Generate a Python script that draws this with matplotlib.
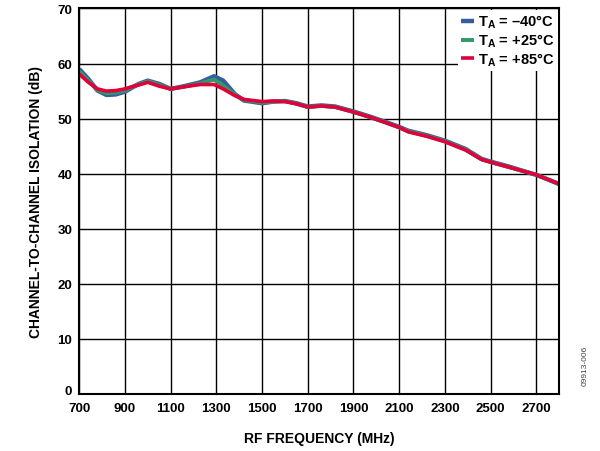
import matplotlib
matplotlib.use("Agg")
import matplotlib.pyplot as plt
import matplotlib.transforms as mtransforms

# === DATOS === #
freq_mhz = [700, 740, 780, 820, 860, 900, 930, 960, 1000, 1050, 1100, 1160, 1230, 1290,
            1330, 1380, 1420, 1500, 1550, 1600, 1650, 1700, 1760, 1820, 1900, 1970,
            2040, 2100, 2140, 2220, 2300, 2390, 2460, 2500, 2580, 2650, 2700, 2790, 2800]
iso_m40 = [59.0, 57.2, 55.1, 54.3, 54.4, 54.9, 55.6, 56.3, 56.9, 56.3, 55.4, 55.9, 56.6,
           57.7, 56.9, 54.5, 53.3, 52.8, 53.1, 53.2, 52.8, 52.2, 52.4, 52.2, 51.3, 50.4,
           49.4, 48.5, 47.8, 47.0, 46.0, 44.5, 42.7, 42.2, 41.3, 40.4, 39.8, 38.3, 38.1]
iso_p25 = [58.6, 56.9, 55.2, 54.6, 54.7, 55.1, 55.7, 56.2, 56.8, 56.1, 55.4, 55.8, 56.4,
           57.1, 56.0, 54.4, 53.4, 52.9, 53.1, 53.2, 52.7, 52.1, 52.3, 52.1, 51.2, 50.3,
           49.3, 48.4, 47.7, 46.9, 45.9, 44.4, 42.6, 42.1, 41.2, 40.4, 39.8, 38.3, 38.1]
iso_p85 = [58.1, 56.6, 55.4, 55.0, 55.1, 55.4, 55.8, 56.1, 56.6, 55.9, 55.4, 55.8, 56.2,
           56.2, 55.4, 54.2, 53.5, 53.1, 53.2, 53.1, 52.7, 52.1, 52.3, 52.1, 51.2, 50.3,
           49.3, 48.4, 47.6, 46.8, 45.8, 44.3, 42.6, 42.1, 41.2, 40.4, 39.8, 38.3, 38.1]
etiquetas = ["$\\mathbf{T_A}$ = \u201340\u00b0C",
             "$\\mathbf{T_A}$ = +25\u00b0C",
             "$\\mathbf{T_A}$ = +85\u00b0C"]
colores = ["#3A5C9E", "#2E9A6A", "#E2003B"]
xticks = list(range(700, 2701, 200))
yticks = list(range(0, 71, 10))

plt.rcParams["font.family"] = ["Liberation Sans", "DejaVu Sans"]
plt.rcParams["font.weight"] = "bold"
plt.rcParams["mathtext.fontset"] = "custom"
plt.rcParams["mathtext.bf"] = "Liberation Sans:bold"
plt.rcParams["mathtext.rm"] = "Liberation Sans:bold"

fig = plt.figure(figsize=(6, 4.52), dpi=100)
ax = fig.add_axes([0.132, 0.126, 0.8, 0.853])

# Curvas: azul debajo, rojo encima
for serie, col, lab, lw in zip([iso_m40, iso_p25, iso_p85], colores, etiquetas, [3.2, 2.8, 2.6]):
    ax.plot(freq_mhz, serie, color=col, lw=lw, label=lab,
            solid_joinstyle="round", solid_capstyle="butt")

ax.set_xlim(700, 2800)
ax.set_ylim(0, 70)
ax.set_xticks(xticks)
ax.set_yticks(yticks)
ax.tick_params(length=0, labelsize=9.5)
ax.tick_params(axis="x", pad=6)
ax.tick_params(axis="y", pad=5)
ax.grid(True, color="black", lw=1.0)
for s in ax.spines.values():
    s.set_linewidth(1.5)
ax.set_axisbelow(True)

# subir un poco el "0" para que no choque con "700"
fig.canvas.draw()
etq0 = ax.get_yticklabels()[0]
etq0.set_transform(etq0.get_transform() + mtransforms.ScaledTranslation(0, 3 / 72, fig.dpi_scale_trans))

ax.set_xlabel("RF FREQUENCY (MHz)", fontsize=10, fontweight="bold", labelpad=12)
ax.set_ylabel("CHANNEL-TO-CHANNEL ISOLATION (dB)", fontsize=10, fontweight="bold", labelpad=10)

leg = ax.legend(loc="upper right", frameon=True, fancybox=False, framealpha=1,
                edgecolor="white", fontsize=10.5, handlelength=0.9, handletextpad=0.3,
                labelspacing=0.1, borderpad=0.2, borderaxespad=0.1)
leg.get_frame().set_linewidth(0)

# Codigo de figura al margen
fig.text(0.975, 0.19, "09913-006", rotation=90, fontsize=6, color="#444444",
         fontweight="normal", ha="center", va="center")

plt.savefig("out.png", dpi=100)
plt.close()
